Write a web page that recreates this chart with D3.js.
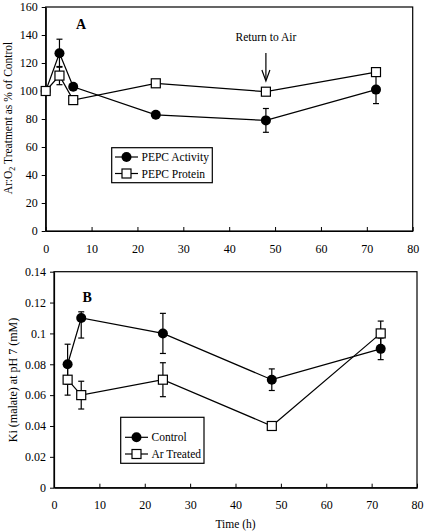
<!DOCTYPE html>
<html><head><meta charset="utf-8">
<script src="https://cdn.jsdelivr.net/npm/d3@7"></script>
<style>body{margin:0;background:#fff}svg{display:block}text{font-family:"Liberation Serif","Times New Roman",serif;fill:#000}</style>
</head><body>
<svg id="c" width="425" height="531"></svg>
<script>
// Panel A data
const timeA = [0, 3, 6, 24, 48, 72];
const activityA = [100, 127, 103, 83, 79, 101];
const activityErrUpA = [0, 10, 0, 0, 8.5, 10];
const activityErrDownA = [0, 10, 0, 0, 8.5, 10];
const proteinA = [100, 111, 93.5, 105.5, 99.5, 113.5];
const proteinErrUpA = [0, 6.5, 0, 0, 0, 0];
const proteinErrDownA = [0, 6.5, 0, 0, 0, 0];
const yTicksA = [0, 20, 40, 60, 80, 100, 120, 140, 160];
// Panel B data
const timeB = [3, 6, 24, 48, 72];
const controlB = [0.08, 0.11, 0.10, 0.07, 0.09];
const controlErrUpB = [0.013, 0.004, 0.013, 0.007, 0.007];
const controlErrDownB = [0.013, 0.013, 0.013, 0.007, 0.007];
const arB = [0.07, 0.06, 0.07, 0.04, 0.10];
const arErrUpB = [0.01, 0.009, 0.011, 0, 0.008];
const arErrDownB = [0.01, 0.009, 0.011, 0, 0.008];
const yTicksB = [0, 0.02, 0.04, 0.06, 0.08, 0.1, 0.12, 0.14];
const xTicks = [0, 10, 20, 30, 40, 50, 60, 70, 80];

const svg = d3.select("#c");

function panel(cfg) {
  const x = d3.scaleLinear().domain([0, 80]).range([cfg.x0, cfg.x1]);
  const y = d3.scaleLinear().domain([0, cfg.ymax]).range([cfg.y0, cfg.y1]);
  const g = svg.append("g");
  g.append("rect").attr("x", cfg.x0).attr("y", cfg.y1).attr("width", cfg.x1 - cfg.x0).attr("height", cfg.y0 - cfg.y1)
    .attr("fill", "none").attr("stroke", "#000").attr("stroke-width", 1.2);
  const xa = g.append("g").attr("transform", `translate(0,${cfg.y0})`)
    .call(d3.axisBottom(x).tickValues(xTicks).tickSizeInner(-4).tickSizeOuter(0).tickPadding(13).tickFormat(d3.format("d")));
  xa.select(".domain").attr("stroke-width", 1.2);
  xa.selectAll("text").attr("font-size", 12).attr("font-family", "Liberation Serif");
  const ya = g.append("g").attr("transform", `translate(${cfg.x0},0)`)
    .call(d3.axisLeft(y).tickValues(cfg.yTicks).tickSizeInner(4).tickSizeOuter(0).tickPadding(4).tickFormat(cfg.fmt));
  ya.select(".domain").attr("stroke-width", 1.2);
  ya.selectAll("text").attr("font-size", 12).attr("font-family", "Liberation Serif");

  cfg.series.forEach(s => {
    const pts = cfg.t.map((t, i) => ({t, v: s.v[i], eu: s.eu[i], ed: s.ed[i]}));
    g.append("path").datum(pts)
      .attr("d", d3.line().x(d => x(d.t)).y(d => y(d.v)))
      .attr("fill", "none").attr("stroke", "#000").attr("stroke-width", 1.2);
    pts.filter(d => d.eu > 0 || d.ed > 0).forEach(d => {
      const cx = x(d.t);
      g.append("line").attr("x1", cx).attr("x2", cx).attr("y1", y(d.v - d.ed)).attr("y2", y(d.v + d.eu)).attr("stroke", "#000").attr("stroke-width", 1.2);
      [d.v - d.ed, d.v + d.eu].forEach(v => g.append("line").attr("x1", cx - 3).attr("x2", cx + 3).attr("y1", y(v)).attr("y2", y(v)).attr("stroke", "#000").attr("stroke-width", 1.2));
    });
  });
  cfg.series.forEach(s => {
    cfg.t.forEach((t, i) => marker(g, s.shape, x(t), y(s.v[i])));
  });
  return {x, y, g};
}

function marker(g, shape, cx, cy) {
  if (shape === "circle") {
    g.append("circle").attr("cx", cx).attr("cy", cy).attr("r", 5).attr("fill", "#000");
  } else {
    g.append("rect").attr("x", cx - 4.5).attr("y", cy - 4.5).attr("width", 9).attr("height", 9)
      .attr("fill", "#fff").attr("stroke", "#000").attr("stroke-width", 1.2);
  }
}

function legend(g, bx, by, bw, bh, items, lx0, lx1, tx, ys) {
  g.append("rect").attr("x", bx).attr("y", by).attr("width", bw).attr("height", bh)
    .attr("fill", "#fff").attr("stroke", "#000").attr("stroke-width", 1.2);
  items.forEach((it, i) => {
    g.append("line").attr("x1", lx0).attr("x2", lx1).attr("y1", ys[i]).attr("y2", ys[i]).attr("stroke", "#000").attr("stroke-width", 1.2);
    marker(g, it.shape, (lx0 + lx1) / 2, ys[i]);
    g.append("text").attr("x", tx).attr("y", ys[i]).attr("dy", "0.35em").attr("font-size", 11.5).text(it.label);
  });
}

// Panel A
const A = panel({
  x0: 45.7, x1: 412.7, y0: 231, y1: 7, ymax: 160, yTicks: yTicksA, fmt: d3.format("d"),
  t: timeA,
  series: [
    {v: activityA, eu: activityErrUpA, ed: activityErrDownA, shape: "circle"},
    {v: proteinA, eu: proteinErrUpA, ed: proteinErrDownA, shape: "square"}
  ]
});
legend(A.g, 111.7, 147.7, 100.6, 35, [
  {shape: "circle", label: "PEPC Activity"},
  {shape: "square", label: "PEPC Protein"}
], 115, 138, 141.5, [157, 173.5]);
A.g.append("text").attr("x", 76).attr("y", 29).attr("font-size", 14).attr("font-weight", "bold").text("A");
A.g.append("text").attr("x", A.x(48)).attr("y", 41).attr("text-anchor", "middle").attr("font-size", 11.5).text("Return to Air");
A.g.append("line").attr("x1", A.x(48)).attr("x2", A.x(48)).attr("y1", 53).attr("y2", 80).attr("stroke", "#000").attr("stroke-width", 1.2);
A.g.append("path").attr("d", `M${A.x(48) - 4},${70} L${A.x(48)},${81} L${A.x(48) + 4},${70}`).attr("fill", "none").attr("stroke", "#000").attr("stroke-width", 1.2);
const ylA = A.g.append("text").attr("transform", "translate(12,118) rotate(-90)").attr("text-anchor", "middle").attr("font-size", 11.5);
ylA.append("tspan").text("Ar:O");
ylA.append("tspan").attr("font-size", 8).attr("dy", 3).text("2");
ylA.append("tspan").attr("dy", -3).text(" Treatment as % of Control");

// Panel B
const B = panel({
  x0: 54, x1: 417, y0: 487.7, y1: 271.7, ymax: 0.14, yTicks: yTicksB, fmt: d => d === 0 ? "0" : String(+d.toFixed(2)),
  t: timeB,
  series: [
    {v: controlB, eu: controlErrUpB, ed: controlErrDownB, shape: "circle"},
    {v: arB, eu: arErrUpB, ed: arErrDownB, shape: "square"}
  ]
});
legend(B.g, 120.7, 417.3, 83.3, 46, [
  {shape: "circle", label: "Control"},
  {shape: "square", label: "Ar Treated"}
], 125, 148, 151.5, [437.3, 454]);
B.g.append("text").attr("x", 82.5).attr("y", 302).attr("font-size", 14).attr("font-weight", "bold").text("B");
B.g.append("text").attr("transform", "translate(17,380) rotate(-90)").attr("text-anchor", "middle").attr("font-size", 12).text("Ki (malate) at pH 7 (mM)");
B.g.append("text").attr("x", (54 + 417) / 2).attr("y", 528).attr("text-anchor", "middle").attr("font-size", 11.5).text("Time (h)");
</script>
</body></html>
